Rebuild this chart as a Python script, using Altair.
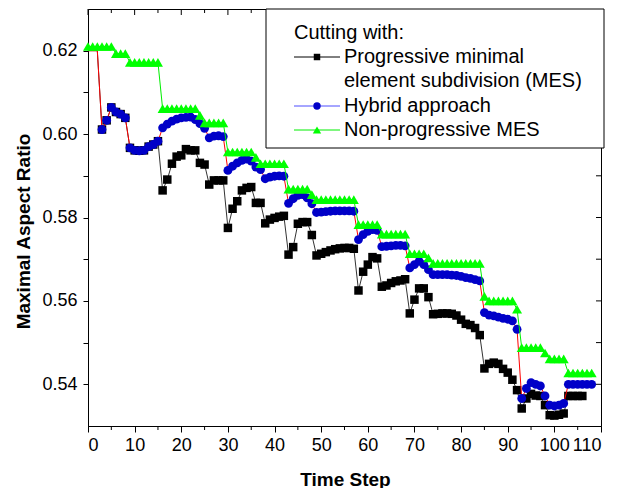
import altair as alt
import pandas as pd

# ---------------- data ----------------
steps_green = list(range(109))
green = [0.621, 0.621, 0.621, 0.621, 0.621, 0.621,
         0.6193, 0.6193, 0.6193,
         0.6172, 0.6172, 0.6172, 0.6172, 0.6172, 0.6172, 0.6172,
         0.6061, 0.6061, 0.6061, 0.6061, 0.6061, 0.6061, 0.6061, 0.6061,
         0.6045,
         0.6027, 0.6027, 0.6027, 0.6027, 0.6027,
         0.5957, 0.5957, 0.5957, 0.5957, 0.5957, 0.5957,
         0.5944,
         0.5929, 0.5929, 0.5929, 0.5929, 0.5929, 0.5929,
         0.5868, 0.5868, 0.5868, 0.5868, 0.5868,
         0.5855,
         0.5843, 0.5843, 0.5843, 0.5843, 0.5843, 0.5843, 0.5843, 0.5843, 0.5843,
         0.5783, 0.5783, 0.5783, 0.5783, 0.5783,
         0.5760, 0.5760, 0.5760, 0.5760, 0.5760, 0.5760,
         0.5713, 0.5713, 0.5713, 0.5713,
         0.5703,
         0.5690, 0.5690, 0.5690, 0.5690, 0.5690, 0.5690, 0.5690, 0.5690, 0.5690, 0.5690, 0.5690,
         0.5611,
         0.5600, 0.5600, 0.5600, 0.5600, 0.5600, 0.5600,
         0.5580,
         0.5488, 0.5488, 0.5488, 0.5488, 0.5488,
         0.5475,
         0.5461, 0.5461, 0.5461, 0.5461,
         0.5427, 0.5427, 0.5427, 0.5427, 0.5427, 0.5427]

steps_hybrid = list(range(109))
hybrid = [0.620, 0.620, 0.620, 0.6011, 0.6033, 0.6064, 0.6053, 0.6048, 0.6039, 0.5967,
          0.5961, 0.5960, 0.5961, 0.5970, 0.5975, 0.5983, 0.6015, 0.6024, 0.6031, 0.6036,
          0.6039, 0.6040, 0.6041, 0.6035, 0.6025, 0.6014, 0.5991, 0.5995, 0.5996, 0.5994,
          0.5913, 0.5923, 0.5931, 0.5937, 0.5940, 0.5935, 0.5921, 0.5915, 0.5893, 0.5897,
          0.5899, 0.5900, 0.5899, 0.5834, 0.5845, 0.5853, 0.5855, 0.5847, 0.5833, 0.5812,
          0.5813, 0.5814, 0.5815, 0.5816, 0.5816, 0.5816, 0.5816, 0.5815, 0.5747, 0.5759,
          0.5767, 0.5771, 0.5769, 0.5730, 0.5731, 0.5732, 0.5733, 0.5733, 0.5732, 0.5679,
          0.5687, 0.5695, 0.5687, 0.5675, 0.5663, 0.5663, 0.5663, 0.5663, 0.5662, 0.5661,
          0.5659, 0.5656, 0.5654, 0.5651, 0.5648, 0.5572, 0.5566, 0.5564, 0.5561, 0.5558,
          0.5556, 0.5552, 0.5532, 0.5366, 0.5390, 0.5404, 0.5400, 0.5396, 0.5372, 0.5350,
          0.5348, 0.5350, 0.5354, 0.5400, 0.5400, 0.5400, 0.5400, 0.5400, 0.5400]

steps_mes = list(range(107))
mes = [0.620, 0.620, 0.620, 0.6011, 0.6033, 0.6064, 0.6053, 0.6048, 0.6039, 0.5967,
       0.5961, 0.5960, 0.5961, 0.5970, 0.5975, 0.5983, 0.5865, 0.5891, 0.5929, 0.5946,
       0.5949, 0.5964, 0.5961, 0.5961, 0.5931, 0.5927, 0.5879, 0.5889, 0.5889, 0.5889,
       0.5775, 0.5821, 0.5839, 0.5865, 0.5871, 0.5873, 0.5835, 0.5835, 0.5786, 0.5795,
       0.5799, 0.5802, 0.5804, 0.5711, 0.5729, 0.5785, 0.5789, 0.5789, 0.5758, 0.5709,
       0.5713, 0.5717, 0.5721, 0.5724, 0.5726, 0.5727, 0.5727, 0.5725, 0.5625, 0.5670,
       0.5687, 0.5705, 0.5702, 0.5634, 0.5637, 0.5643, 0.5647, 0.5649, 0.5652, 0.5570,
       0.5603, 0.5630, 0.5630, 0.5609, 0.5568, 0.5569, 0.5570, 0.5570, 0.5569, 0.5565,
       0.5555, 0.5545, 0.5542, 0.5535, 0.5518, 0.5438, 0.5449, 0.5452, 0.5449, 0.5437,
       0.5428, 0.5411, 0.5386, 0.5342, 0.5366, 0.5377, 0.5373, 0.5372, 0.5350, 0.5326,
       0.5325, 0.5327, 0.5330, 0.5372, 0.5372, 0.5372, 0.5372]

legend_title = "Cutting with:"
legend_labels = ["Progressive minimal", "element subdivision (MES)",
                 "Hybrid approach", "Non-progressive MES"]

x_major = [0, 10, 20, 30, 40, 50, 60, 70, 80, 90, 100, 110]
x_minor = [5, 15, 25, 35, 45, 55, 65, 75, 85, 95, 105]
y_ticks = [0.54, 0.55, 0.56, 0.57, 0.58, 0.59, 0.60, 0.61, 0.62]

# ---------------- layout ----------------
W, H = 513, 417
FONT = "Liberation Sans"

df_mes = pd.DataFrame({"t": steps_mes, "v": mes})
df_hyb = pd.DataFrame({"t": steps_hybrid, "v": hybrid})
df_grn = pd.DataFrame({"t": steps_green, "v": green})
df_xmaj = pd.DataFrame({"t": x_major})
df_xmin = pd.DataFrame({"t": x_minor})
df_y = pd.DataFrame({"v": y_ticks})
one = pd.DataFrame({"k": [0]})

x_enc = alt.X("t:Q",
              scale=alt.Scale(domain=[0, 110], nice=False, zero=False),
              axis=alt.Axis(values=x_major, tickSize=6, tickColor="black",
                            domainColor="black", labelColor="black",
                            labelFontSize=18, labelPadding=4, grid=False,
                            title="Time Step", titleFontSize=19,
                            titleFontWeight="bold", titleColor="black",
                            titleX=257, titleY=59, titleAlign="center",
                            titleBaseline="alphabetic"))
y_enc = alt.Y("v:Q",
              scale=alt.Scale(domain=[0.53, 0.63], nice=False, zero=False),
              axis=alt.Axis(values=y_ticks, tickSize=5, tickColor="black",
                            domainColor="black", labelColor="black",
                            labelExpr="round(datum.value*100) % 2 == 0 ? format(datum.value, '.2f') : ''",
                            labelFontSize=18, labelPadding=6, grid=False,
                            title="Maximal Aspect Ratio", titleFontSize=19,
                            titleFontWeight="bold", titleColor="black",
                            titleAngle=270, titleX=-65, titleY=222,
                            titleAlign="center", titleBaseline="middle"))

line_mes = alt.Chart(df_mes).mark_line(color="#333333", strokeWidth=1).encode(x=x_enc, y=y_enc)
pts_mes = alt.Chart(df_mes).transform_filter("datum.t >= 3").mark_point(
    shape="square", filled=True, color="black", size=72, opacity=1, strokeWidth=0
).encode(x=x_enc, y=y_enc)

line_hyb = alt.Chart(df_hyb).mark_line(color="#ff0000", strokeWidth=1).encode(x=x_enc, y=y_enc)
pts_hyb = alt.Chart(df_hyb).transform_filter("datum.t >= 3").mark_point(
    shape="circle", filled=True, color="#0000c8", size=78, opacity=1, strokeWidth=0
).encode(x=x_enc, y=y_enc)

line_grn = alt.Chart(df_grn).mark_line(color="#00ee00", strokeWidth=1).encode(x=x_enc, y=y_enc)
pts_grn = alt.Chart(df_grn).mark_point(
    shape="triangle-up", filled=True, color="#00ff00", size=100, opacity=1, strokeWidth=0
).encode(x=x_enc, y=y_enc)

# frame ticks (top / right inward, bottom minor)
top_major = alt.Chart(df_xmaj).mark_rule(color="black").encode(x=x_enc, y=alt.value(0), y2=alt.value(6))
top_minor = alt.Chart(df_xmin).mark_rule(color="black").encode(x=x_enc, y=alt.value(0), y2=alt.value(4))
bot_minor = alt.Chart(df_xmin).mark_rule(color="black").encode(x=x_enc, y=alt.value(H), y2=alt.value(H + 4))
right_ticks = alt.Chart(df_y).mark_rule(color="black").encode(y=y_enc, x=alt.value(W - 5), x2=alt.value(W))

# legend
box = alt.Chart(one).mark_rect(fill="white", stroke="black", strokeWidth=1).encode(
    x=alt.value(178), x2=alt.value(W + 3), y=alt.value(0), y2=alt.value(139))

LX0, LX1, LM, LT = 206, 252, 229, 256
rows = [48, 72, 97, 121]
text_props = dict(align="left", baseline="middle", font=FONT, fontSize=20, color="black")

leg = [box,
       alt.Chart(one).mark_text(**text_props).encode(x=alt.value(LX0), y=alt.value(24), text=alt.value(legend_title))]
for y, col, mcol, shape, size in [(rows[0], "black", "black", "square", 42),
                                  (rows[2], "#4d4dff", "#0000c8", "circle", 55),
                                  (rows[3], "#00ee00", "#00ff00", "triangle-up", 70)]:
    leg.append(alt.Chart(one).mark_rule(color=col, strokeWidth=1).encode(
        x=alt.value(LX0), x2=alt.value(LX1), y=alt.value(y)))
    leg.append(alt.Chart(one).mark_point(shape=shape, filled=True, color=mcol, size=size,
                                         opacity=1, strokeWidth=0).encode(
        x=alt.value(LM), y=alt.value(y)))
for y, lab in zip(rows, legend_labels):
    leg.append(alt.Chart(one).mark_text(**text_props).encode(
        x=alt.value(LT), y=alt.value(y), text=alt.value(lab)))

chart = alt.layer(
    line_mes, pts_mes, line_hyb, pts_hyb, line_grn, pts_grn,
    top_major, top_minor, bot_minor, right_ticks, *leg
).properties(
    width=W, height=H, autosize="none",
    padding={"left": 80, "top": 1, "right": 12, "bottom": 62}
).configure_view(
    stroke="black", strokeWidth=1
).configure_axis(
    labelFont=FONT, titleFont=FONT
).configure_text(font=FONT)

chart.save("out.html", embed_options={"renderer": "svg", "actions": False})
